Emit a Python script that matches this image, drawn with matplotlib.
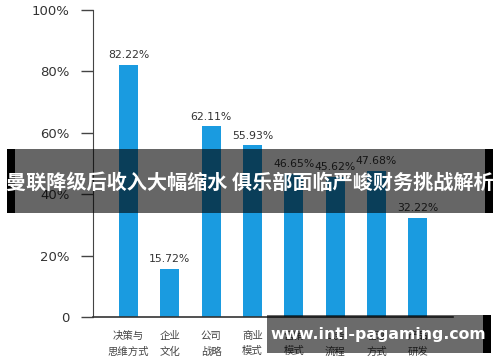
import matplotlib
matplotlib.use("Agg")
import matplotlib.pyplot as plt
from matplotlib.patches import Rectangle

plt.rcParams["font.family"] = ["Noto Sans CJK SC", "DejaVu Sans"]

# ── Data ──────────────────────────────────────────────────────────────────────
categories = ["决策与\n思维方式", "企业\n文化", "公司\n战略", "商业\n模式",
              "营销\n模式", "业务\n流程", "管理\n方式", "产品\n研发"]
values = [82.22, 15.72, 62.11, 55.93, 46.65, 45.62, 47.68, 32.22]
y_ticks = [0, 20, 40, 60, 80, 100]
y_tick_labels = ["0", "20%", "40%", "60%", "80%", "100%"]

TITLE = "曼联降级后收入大幅缩水 俱乐部面临严峻财务挑战解析"
WATERMARK = "www.intl-pagaming.com"
BAR_COLOR = "#1a9be0"

# ── Figure ────────────────────────────────────────────────────────────────────
fig = plt.figure(figsize=(5.0, 3.62), dpi=100)
ax = fig.add_axes([0.186, 0.1243, 0.72, 0.848])

x = list(range(len(values)))
ax.bar(x, values, width=0.46, color=BAR_COLOR, zorder=2)
for xi, v in zip(x, values):
    ax.text(xi, v + 1.5, f"{v:.2f}%", ha="center", va="bottom",
            fontsize=7.8, color="#333333", family="DejaVu Sans")

ax.set_xlim(-0.86, 7.85)
ax.set_ylim(0, 100)
ax.set_yticks(y_ticks)
ax.set_yticklabels(y_tick_labels, fontsize=9.5, color="#333333",
                   family="DejaVu Sans")
ax.tick_params(axis="y", direction="out", length=9, width=1,
               color="#444444", pad=8)
ax.set_xticks(x)
ax.set_xticklabels(categories, fontsize=7.5, color="#444444", linespacing=1.7)
ax.tick_params(axis="x", length=0, pad=10)

for s in ["top", "right"]:
    ax.spines[s].set_visible(False)
ax.spines["left"].set_color("#444444")
ax.spines["bottom"].set_color("#333333")
ax.spines["bottom"].set_linewidth(1.2)

# ── Overlays: title banner and watermark ──────────────────────────────────────
def px_rect(x0, y0, x1, y1, **kw):
    W, H = 500, 362
    fig.patches.append(Rectangle((x0 / W, 1 - y1 / H), (x1 - x0) / W,
                                 (y1 - y0) / H, transform=fig.transFigure,
                                 zorder=10, **kw))

px_rect(7, 149, 493, 213, color="black", alpha=0.6, lw=0)
px_rect(7, 149, 15, 213, color="black", lw=0)
px_rect(485, 149, 493, 213, color="black", lw=0)
fig.text(0.5, 1 - 182 / 362, TITLE, ha="center", va="center", color="white",
         fontsize=14.5, fontweight="bold", zorder=11)

px_rect(267, 315, 483, 353, color="black", alpha=0.58, lw=0)
px_rect(483, 315, 491, 353, color="black", lw=0)
fig.text(378 / 500, 1 - 335 / 362, WATERMARK, ha="center", va="center",
         color="white", fontsize=11.3, fontweight="bold", zorder=11,
         family="DejaVu Sans")

fig.savefig("out.png", dpi=100)
